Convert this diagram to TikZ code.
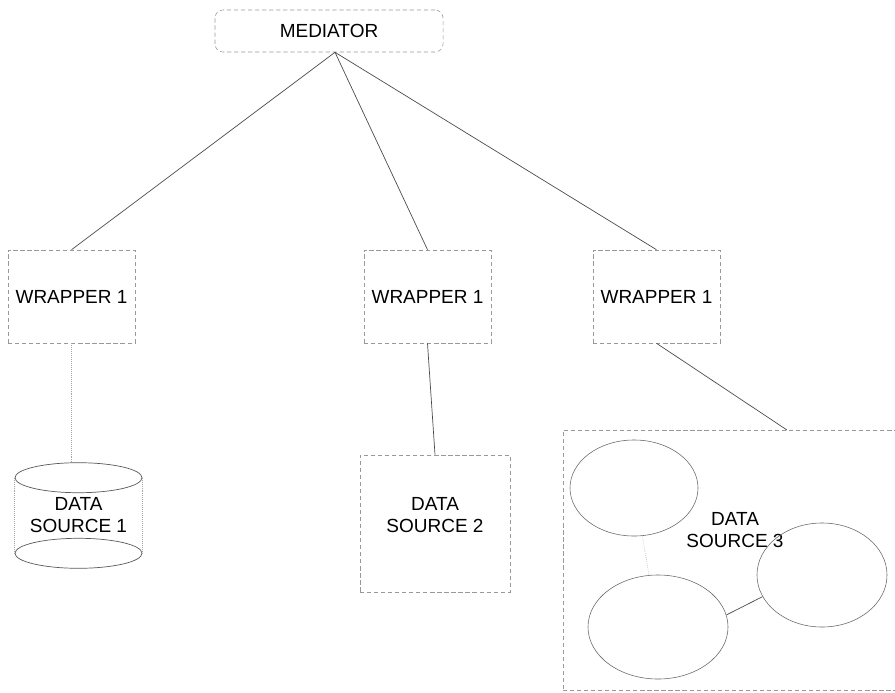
\documentclass[tikz,border=0pt]{standalone}
\usepackage{fontspec}
\setmainfont{Liberation Sans}
\usetikzlibrary{shapes.geometric}
\tikzset{
  txt/.style={align=center, inner sep=0pt, font=\fontsize{13.5}{15.6}\selectfont},
  box/.style={txt, draw=black!40, densely dashed, line width=0.4pt},
  wrapbox/.style={box, minimum width=3.175cm, minimum height=2.325cm},
  blob/.style={ellipse, draw=black!60, line width=0.4pt, inner sep=0pt},
  link/.style={draw=black!70, line width=0.5pt},
  faint/.style={draw=black!35, densely dotted, line width=0.4pt},
}
\begin{document}
\begin{tikzpicture}[x=0.025cm, y=-0.025cm]
 \useasboundingbox (0,0) rectangle (895,692);
 \clip (0,0) rectangle (895,692);
 % mediator
 \node[box, rounded corners=0.2cm, minimum width=5.7cm, minimum height=1.05cm] (med) at (329,31) {MEDIATOR};
 \coordinate (hub) at ([xshift=0.15cm]med.south);
 % wrappers
 \node[wrapbox] (wrapL) at (71.5,296.5) {WRAPPER 1};
 \node[wrapbox] (wrapM) at (427.5,296.5) {WRAPPER 1};
 \node[wrapbox] (wrapR) at (656.5,296.5) {WRAPPER 1};
 \draw[link] (hub) -- (wrapL.north);
 \draw[link] (hub) -- (wrapM.north);
 \draw[link] (hub) -- (wrapR.north);
 % data source 1 (cylinder)
 \node[txt, minimum width=3.175cm, minimum height=1.875cm] (ds1) at (78.5,515.5) {DATA\\SOURCE 1};
 \draw[draw=black!65, line width=0.5pt] (ds1.north) ellipse (63.5 and 15);
 \draw[draw=black!65, line width=0.5pt] (ds1.south) ellipse (63.5 and 15);
 \draw[faint] (ds1.north west) -- (ds1.south west);
 \draw[faint] (ds1.north east) -- (ds1.south east);
 \coordinate (ds1top) at ([yshift=0.375cm]ds1.north);
 \draw[faint] (wrapL.south) -- (wrapL.south |- ds1top);
 % data source 2
 \node[box, minimum width=3.75cm, minimum height=3.425cm,
       label={[txt, yshift=0.2cm]center:DATA\\SOURCE 2}] (ds2) at (435,523.5) {};
 \draw[link] (wrapM.south) -- (ds2.north);
 % data source 3
 \node[box, minimum width=8.5cm, minimum height=6.5cm] (ds3) at (733,560) {};
 \coordinate (ds3in) at (787,430);
 \draw[link] (wrapR.south) -- (ds3in);
 \node[txt] (ds3txt) at (735,530) {DATA\\SOURCE 3};
 \node[blob, minimum width=3.2cm, minimum height=2.4cm] (e1) at (634,488) {};
 \node[blob, minimum width=3.5cm, minimum height=2.6cm] (e2) at (658,627) {};
 \node[blob, minimum width=3.25cm, minimum height=2.6cm] (e3) at (822,575) {};
 \draw[faint] (e1) -- (e2);
 \draw[link] (e2.10) -- (e3.200);
\end{tikzpicture}
\end{document}
